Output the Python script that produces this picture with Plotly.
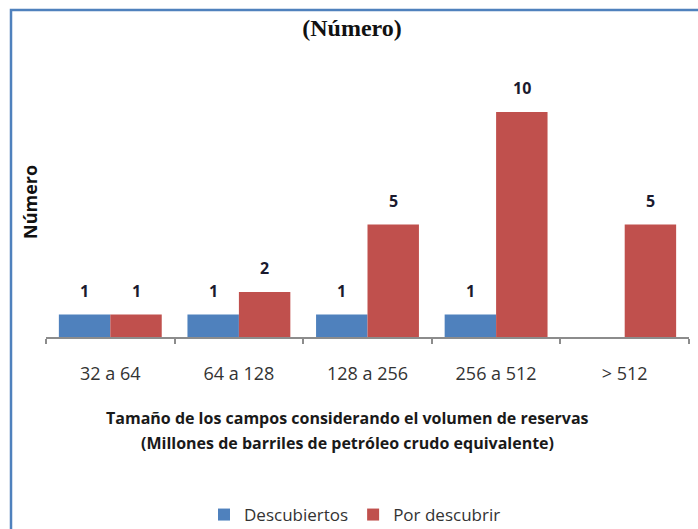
import plotly.graph_objects as go

# Field-size classes (millions of barrels of crude oil equivalent)
categories = ["32 a 64", "64 a 128", "128 a 256", "256 a 512", "> 512"]
descubiertos = [1, 1, 1, 1, None]
por_descubrir = [1, 2, 5, 10, 5]

BLUE = "#4F81BD"
RED = "#C0504D"
FONT = "Open Sans"

W, H = 698, 529
ML, MR, MT, MB = 46, 9, 80, 192
plot_w = W - ML - MR
plot_h = H - MT - MB
px_per_unit = 22.5
ymax = plot_h / px_per_unit


def px_to_paper_x(px):
    return (px - ML) / plot_w


def px_to_paper_y(py):
    return (H - MB - py) / plot_h


fig = go.Figure()
fig.add_trace(go.Bar(name="Descubiertos", x=categories, y=descubiertos,
                     marker=dict(color=BLUE, line=dict(width=0))))
fig.add_trace(go.Bar(name="Por descubrir", x=categories, y=por_descubrir,
                     marker=dict(color=RED, line=dict(width=0))))

# Value labels above each bar
group_w = plot_w / len(categories) * (1 - 0.2)
half = group_w / 4
label_font = dict(family=FONT, size=16, color="#1a1a2e")
annotations = []
for cat, v in zip(categories, descubiertos):
    if v is not None:
        annotations.append(dict(x=cat, y=v, xref="x", yref="y", text=f"<b>{v}</b>",
                                showarrow=False, yanchor="bottom", yshift=11, xshift=-half,
                                font=label_font))
for cat, v in zip(categories, por_descubrir):
    annotations.append(dict(x=cat, y=v, xref="x", yref="y", text=f"<b>{v}</b>",
                            showarrow=False, yanchor="bottom", yshift=11, xshift=half,
                            font=label_font))

# Axis titles
annotations.append(dict(x=px_to_paper_x(30), y=px_to_paper_y(202), xref="paper", yref="paper",
                        xanchor="center", yanchor="middle",
                        text="<b>Número</b>", textangle=-90, showarrow=False,
                        font=dict(family=FONT, size=18, color="#111")))
xtitle_font = dict(family=FONT, size=16, color="#1a1a1a")
for text, py in [("<b>Tamaño de los campos considerando el volumen de reservas</b>", 418),
                 ("<b>(Millones de barriles de petróleo crudo equivalente)</b>", 443)]:
    annotations.append(dict(x=px_to_paper_x(347), y=px_to_paper_y(py), xref="paper", yref="paper",
                            text=text, showarrow=False, xanchor="center", yanchor="middle",
                            font=xtitle_font))

fig.update_layout(
    width=W, height=H,
    margin=dict(l=ML, r=MR, t=MT, b=MB, pad=0, autoexpand=False),
    paper_bgcolor="white", plot_bgcolor="white",
    barmode="group", bargap=0.2, bargroupgap=0,
    title=dict(text="<b>(Número)</b>", x=352 / W, xanchor="center", y=1 - 28 / H, yanchor="middle",
               font=dict(family="Liberation Serif", size=24, color="#111")),
    xaxis=dict(type="category", showline=True, linecolor="#8c8c8c", linewidth=1.5,
               ticks="outside", tickson="boundaries", ticklen=5, tickcolor="#8c8c8c", tickwidth=1.5,
               showgrid=False, tickfont=dict(family=FONT, size=18, color="#333"),
               ticklabelstandoff=20),
    yaxis=dict(range=[0, ymax], visible=False),
    showlegend=True,
    legend=dict(orientation="h", x=px_to_paper_x(355), xanchor="center",
                y=px_to_paper_y(515), yanchor="middle",
                font=dict(family=FONT, size=17, color="#333"), itemwidth=30,
                tracegroupgap=0),
    annotations=annotations,
    shapes=[dict(type="rect", xref="paper", yref="paper",
                 x0=px_to_paper_x(11), x1=px_to_paper_x(720),
                 y0=px_to_paper_y(560), y1=px_to_paper_y(10),
                 line=dict(color=BLUE, width=2.5), fillcolor="rgba(0,0,0,0)", layer="below")],
)

fig.write_html("out.html")
